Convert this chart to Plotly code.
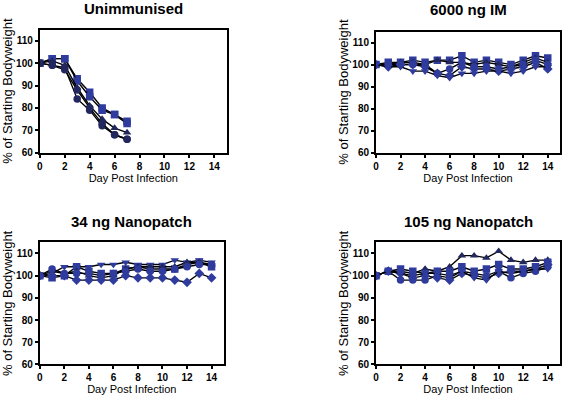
import plotly.graph_objects as go

days_short = [0, 1, 2, 3, 4, 5, 6, 7]
days = list(range(15))

panel_titles = ["Unimmunised", "6000 ng IM", "34 ng Nanopatch", "105 ng Nanopatch"]

unimmunised = {
    "square-a": [100, 102, 102, 93, 87, 80, 77, 74],
    "square-b": [100, 102, 102, 92, 85, 79, 77, 73],
    "triangle": [100, 101, 99, 89, 81, 75, 71, 69],
    "circle-a": [100, 99, 98, 84, 79, 72, 68, 66],
    "circle-b": [100, 99, 97, 88, 80, 73, 68, 66],
}

im_6000 = {
    "square": [100, 101, 101, 102, 101, 102, 102, 104, 101, 102, 101, 100, 102, 104, 103],
    "triangle": [100, 100, 101, 101, 100, 102, 101, 101, 100, 101, 100, 99, 101, 103, 101],
    "circle": [100, 100, 100, 100, 100, 96, 98, 101, 99, 99, 98, 99, 100, 102, 100],
    "diamond": [100, 99, 100, 100, 99, 96, 95, 99, 98, 98, 97, 98, 99, 101, 98],
    "triangle-down": [100, 99, 99, 97, 97, 95, 94, 96, 96, 97, 97, 96, 97, 99, 99],
}

np_34 = {
    "triangle-down": [100, 101, 104, 104, 104, 105, 105, 106, 105, 105, 105, 107, 106, 107, 106],
    "square": [100, 99, 100, 104, 102, 101, 101, 103, 104, 103, 103, 103, 105, 106, 104],
    "triangle": [100, 102, 101, 102, 100, 99, 100, 103, 104, 104, 104, 104, 106, 106, 105],
    "circle": [100, 103, 101, 101, 101, 100, 101, 102, 103, 102, 102, 103, 104, 105, 105],
    "diamond": [100, 100, 100, 98, 98, 98, 98, 100, 99, 99, 99, 98, 97, 101, 99],
}

np_105 = {
    "triangle": [100, 102, 102, 101, 103, 102, 104, 109, 109, 108, 111, 107, 106, 107, 107],
    "square": [100, 102, 103, 102, 101, 102, 102, 104, 102, 103, 105, 103, 103, 104, 106],
    "circle": [100, 102, 98, 98, 98, 100, 99, 102, 101, 100, 102, 99, 101, 102, 104],
    "diamond": [100, 102, 101, 99, 100, 99, 98, 101, 100, 99, 101, 102, 102, 103, 105],
    "triangle-down": [100, 102, 101, 100, 101, 101, 100, 102, 99, 98, 102, 101, 102, 103, 103],
}

y_ticks = [60, 70, 80, 90, 100, 110]
x_ticks = [0, 2, 4, 6, 8, 10, 12, 14]

BLUE = "#2f3c9e"
NAVY = "#22275e"
symbol_map = {
    "square": ("square", BLUE), "square-a": ("square", BLUE), "square-b": ("square", BLUE),
    "triangle": ("triangle-up", NAVY), "circle": ("circle", BLUE),
    "circle-a": ("circle", NAVY), "circle-b": ("circle", NAVY),
    "diamond": ("diamond", BLUE), "triangle-down": ("triangle-down", BLUE),
}

panels = [
    (days_short, unimmunised),
    (days, im_6000),
    (days, np_34),
    (days, np_105),
]

domains = [
    ([37 / 564, 225 / 564], [1 - 155 / 402, 1 - 30 / 402]),
    ([375 / 564, 560 / 564], [1 - 155 / 402, 1 - 32 / 402]),
    ([37 / 564, 222 / 564], [1 - 370 / 402, 1 - 246 / 402]),
    ([375 / 564, 560 / 564], [1 - 370 / 402, 1 - 246 / 402]),
]
title_y = [1 - 9 / 402, 1 - 10 / 402, 1 - 225 / 402, 1 - 225 / 402]

fig = go.Figure()
font_family = "Liberation Sans, Arial, sans-serif"

for i, ((xs, series), (xd, yd)) in enumerate(zip(panels, domains)):
    n = "" if i == 0 else str(i + 1)
    for key, ys in series.items():
        sym, col = symbol_map[key]
        fig.add_trace(go.Scatter(
            x=xs, y=ys, mode="lines+markers",
            line=dict(color="black", width=1.4),
            marker=dict(symbol=sym, size=7.5, color=col, line=dict(width=0)),
            xaxis="x" + n, yaxis="y" + n, showlegend=False,
        ))
    axis_common = dict(
        showgrid=False, zeroline=False, showline=True, linecolor="black", linewidth=2,
        mirror=True, ticks="outside", ticklen=3, tickwidth=1.5, tickcolor="black",
        tickfont=dict(family=font_family, size=10, color="black", weight="bold"),
    )
    fig.update_layout({
        "xaxis" + n: dict(domain=xd, range=[0, 15], tickvals=x_ticks, anchor="y" + n,
                          title=dict(text="Day Post Infection", standoff=3,
                                     font=dict(family=font_family, size=11, color="black")),
                          **axis_common),
        "yaxis" + n: dict(domain=yd, range=[60, 115], tickvals=y_ticks, anchor="x" + n,
                          title=dict(text="% of Starting Bodyweight", standoff=1,
                                     font=dict(family=font_family, size=13, color="black")),
                          **axis_common),
    })
    fig.add_annotation(
        text="<b>" + panel_titles[i] + "</b>", xref="paper", yref="paper",
        x=(xd[0] + xd[1]) / 2, y=title_y[i],
        xanchor="center", yanchor="middle", showarrow=False,
        font=dict(family=font_family, size=15, color="black"),
    )

fig.update_layout(
    width=564, height=402, margin=dict(l=0, r=0, t=0, b=0),
    paper_bgcolor="white", plot_bgcolor="white",
)

fig.write_html("out.html", config={"displayModeBar": False},
               post_script="document.body.style.margin='0';document.body.style.overflow='hidden';")
